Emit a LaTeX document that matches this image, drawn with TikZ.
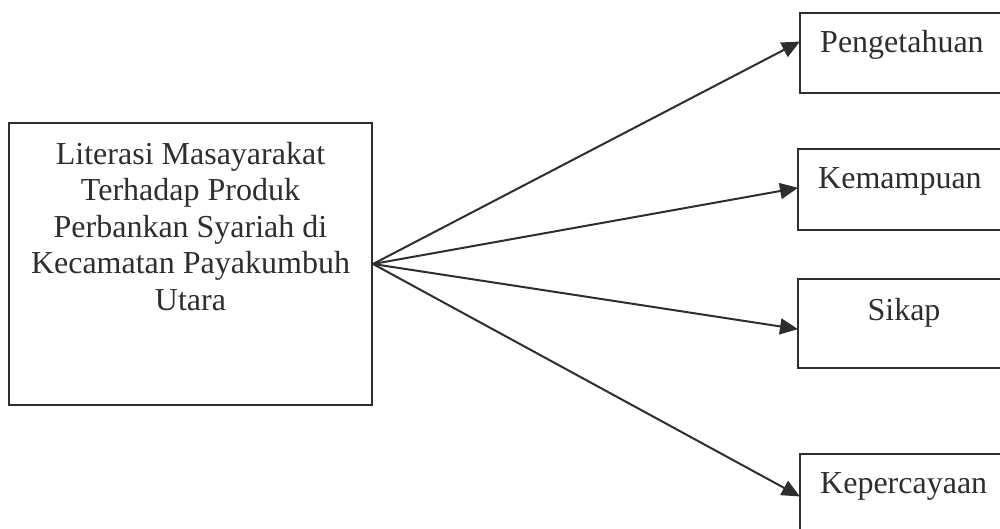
\documentclass[tikz,border=0pt]{standalone}
\usepackage{fontspec}
\setmainfont{Liberation Serif}
\usetikzlibrary{arrows.meta}
\definecolor{ink}{HTML}{2E2E2E}
\tikzset{
  box/.style={draw=ink, line width=2pt, inner sep=0pt},
  lbl/.style={text=ink, font=\fontsize{32}{36.5}\selectfont, inner sep=0pt},
  conn/.style={draw=ink, line width=2pt, -{Triangle[length=18pt,width=16pt]}, shorten >=-1pt}
}
\begin{document}
\begin{tikzpicture}[x=1pt,y=-1pt]
\useasboundingbox (0,0) rectangle (1000,529);
% main box
\node[box, minimum width=363pt, minimum height=282pt] (main) at (190.5,264) {};
\node[lbl, align=center, anchor=base] (maintext) at (190.5,310)
  {Literasi Masayarakat\\Terhadap Produk\\Perbankan Syariah di\\Kecamatan Payakumbuh\\Utara};
% right boxes
\node[box, minimum width=210pt, minimum height=80pt] (b1) at (905,53) {};
\node[box, minimum width=212pt, minimum height=81pt] (b2) at (904,189.5) {};
\node[box, minimum width=212pt, minimum height=89pt] (b3) at (904,323.5) {};
\node[box, minimum width=210pt, minimum height=100pt] (b4) at (905,504) {};
\node[lbl, anchor=base west] (t1) at (820,53) {Pengetahuan};
\node[lbl, anchor=base west] (t2) at (818,189) {Kemampuan};
\node[lbl, anchor=base] (t3) at (904,320) {Sikap};
\node[lbl, anchor=base west] (t4) at (820,493) {Kepercayaan};
% arrow targets on the boxes' left sides
\coordinate (p1) at (b1.west |- 0,42);
\coordinate (p2) at (b2.west |- 0,188);
\coordinate (p3) at (b3.west |- 0,329);
\coordinate (p4) at (b4.west |- 0,496);
\coordinate (src) at (main.east);
\draw[conn] (src) -- (p1);
\draw[conn] (src) -- (p2);
\draw[conn] (src) -- (p3);
\draw[conn] (src) -- (p4);
\end{tikzpicture}
\end{document}
